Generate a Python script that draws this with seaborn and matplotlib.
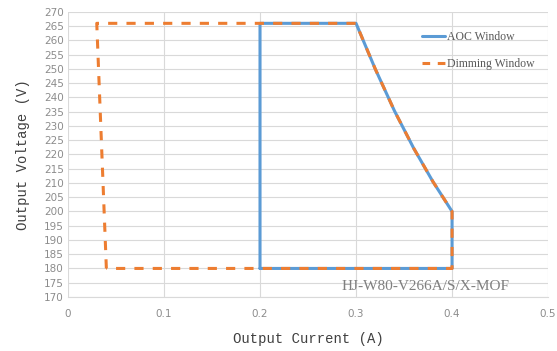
import matplotlib
matplotlib.use("Agg")
import matplotlib.pyplot as plt
import seaborn as sns
import pandas as pd

# Operating windows of the driver (current in A, voltage in V)
aoc_current = [0.20, 0.20, 0.30, 0.32, 0.34, 0.36, 0.38, 0.40, 0.40, 0.20]
aoc_voltage = [180, 266, 266, 250, 235.3, 222.2, 210.5, 200, 180, 180]

dim_current = [0.04, 0.03, 0.30, 0.32, 0.34, 0.36, 0.38, 0.40, 0.40, 0.04]
dim_voltage = [180, 266, 266, 250, 235.3, 222.2, 210.5, 200, 180, 180]

x_ticks = [0, 0.1, 0.2, 0.3, 0.4, 0.5]
y_ticks = list(range(170, 271, 5))
model_name = "HJ-W80-V266A/S/X-MOF"

sns.set_theme(style="white")

fig = plt.figure(figsize=(5.57, 3.51), dpi=100)
ax = fig.add_axes([0.122, 0.154, 0.862, 0.812])

aoc = pd.DataFrame({"I": aoc_current, "V": aoc_voltage})
dim = pd.DataFrame({"I": dim_current, "V": dim_voltage})

sns.lineplot(data=aoc, x="I", y="V", sort=False, estimator=None, ax=ax,
             color="#5B9BD5", linewidth=2.2, label="AOC Window")
sns.lineplot(data=dim, x="I", y="V", sort=False, estimator=None, ax=ax,
             color="#ED7D31", linewidth=2.2, label="Dimming Window",
             dashes=False)
ax.lines[-1].set_linestyle((0, (3.0, 3.0)))
ax.lines[-1].set_dash_capstyle("butt")

ax.set_xlim(0, 0.5)
ax.set_ylim(170, 270)
ax.set_xticks(x_ticks)
ax.set_xticklabels([f"{t:g}" for t in x_ticks])
ax.set_yticks(y_ticks)
ax.tick_params(axis="both", length=0, labelsize=7.5, labelcolor="#8C8C8C")
ax.tick_params(axis="x", pad=9)
ax.tick_params(axis="y", pad=3)
ax.grid(True, color="#D9D9D9", linewidth=0.8)
for s in ["top", "right", "left"]:
    ax.spines[s].set_visible(False)
ax.spines["bottom"].set_color("#D9D9D9")
ax.spines["bottom"].set_linewidth(0.8)

ax.set_xlabel("Output Current (A)", family="Liberation Mono", fontsize=10,
              color="#404040", labelpad=9)
ax.set_ylabel("Output Voltage (V)", family="Liberation Mono", fontsize=10,
              color="#404040", labelpad=10)

ax.text(0.372, 173.6, model_name, family="Liberation Serif", fontsize=11,
        color="#7F7F7F", ha="center", va="center")

leg = ax.legend(loc="upper left", bbox_to_anchor=(0.715, 0.97), frameon=False,
                prop={"family": "Liberation Serif", "size": 8.5},
                handlelength=2.0, handletextpad=0.1, labelspacing=1.3,
                labelcolor="#595959")
leg.get_lines()[1].set_linestyle((0, (2.5, 2.5)))

fig.savefig("out.png", dpi=100)
